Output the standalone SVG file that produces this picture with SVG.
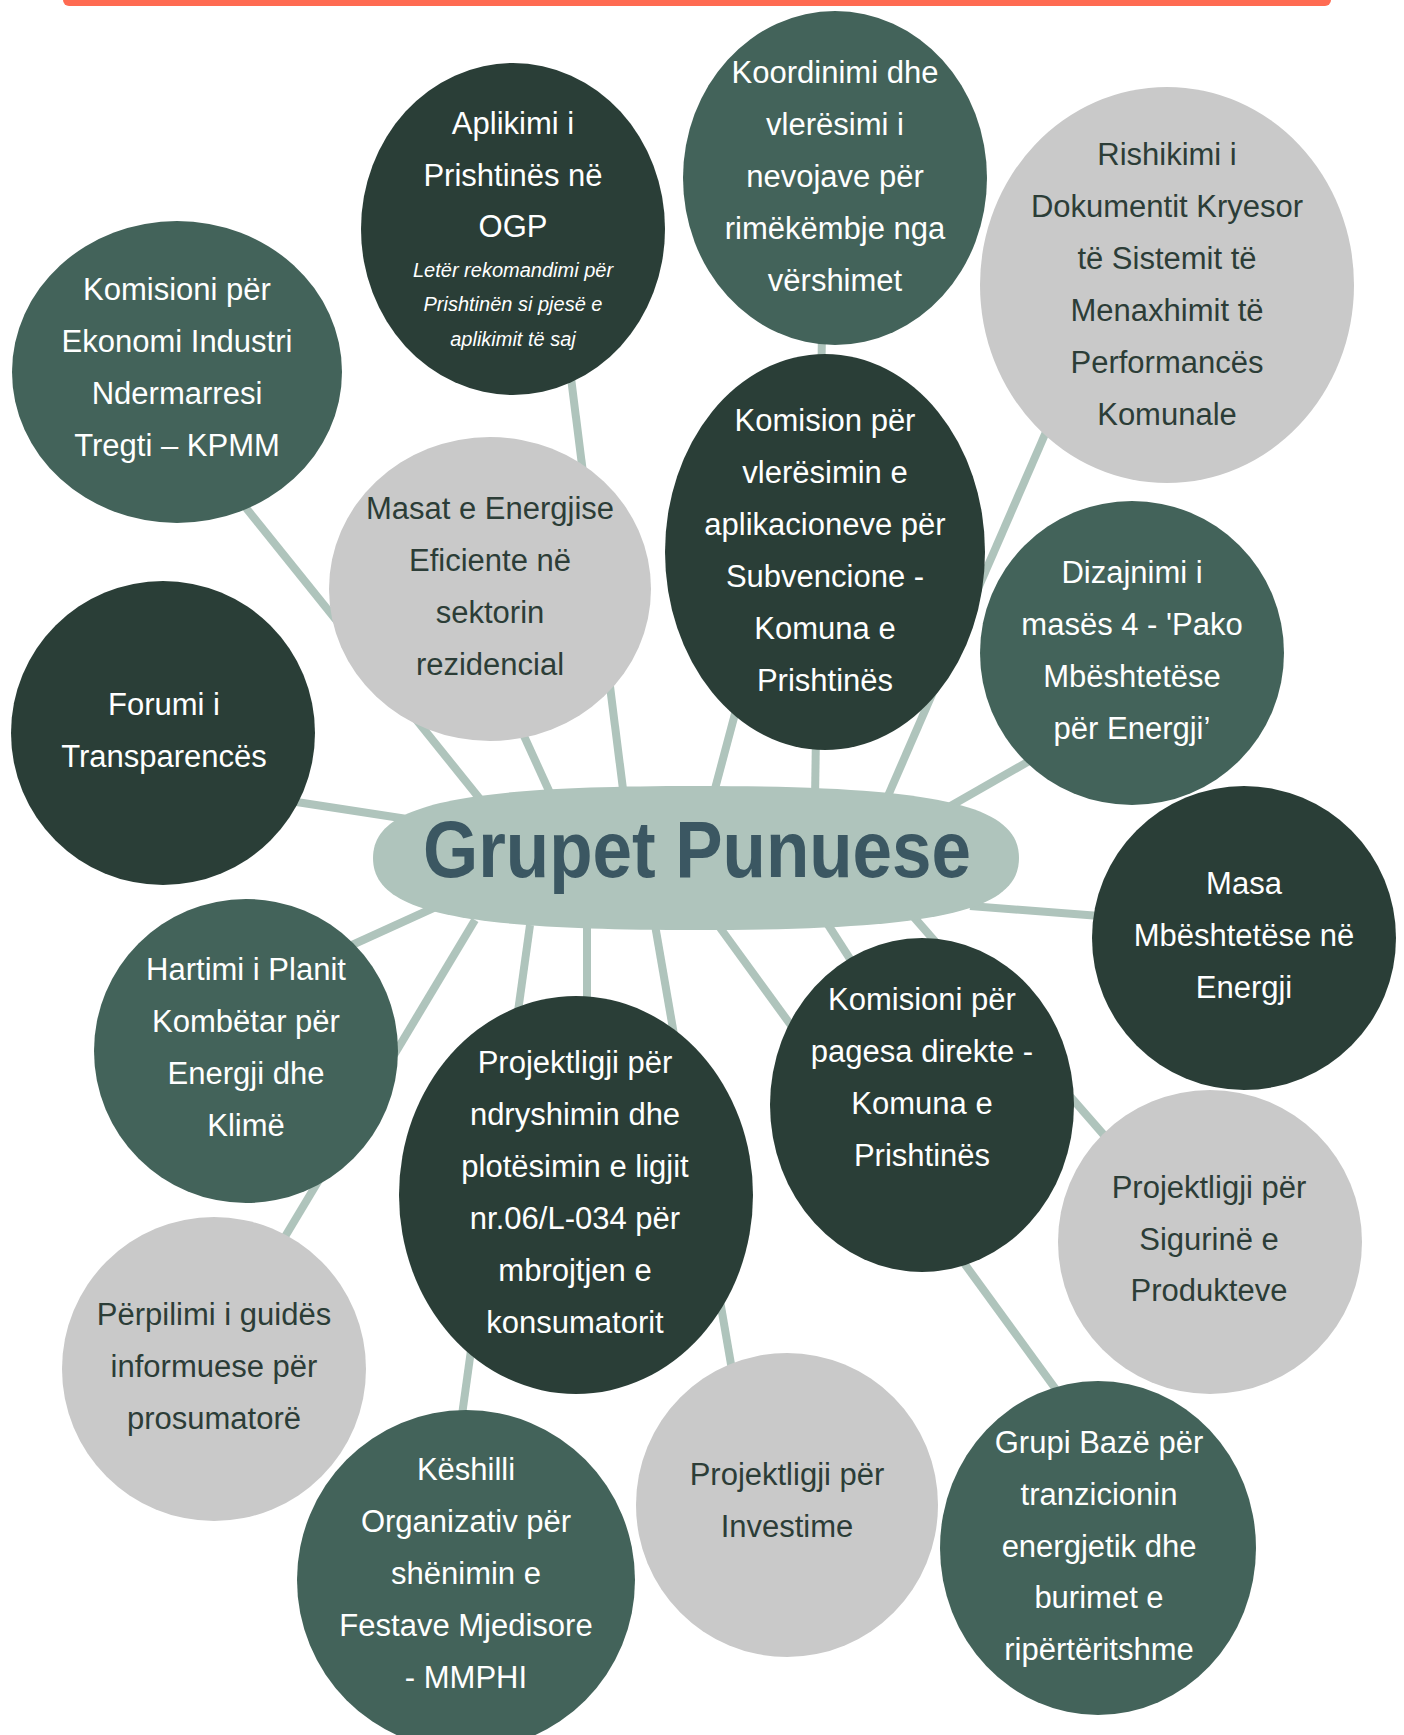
<svg xmlns="http://www.w3.org/2000/svg" width="1404" height="1735" viewBox="0 0 1404 1735">
<style>
.dark{fill:#2A3E37}
.mid{fill:#43635A}
.gray{fill:#C9C9C9}
.hub{fill:#AFC4BC}
text{font-family:"Liberation Sans",Arial,sans-serif;font-size:31px;text-anchor:middle}
.w{fill:#FFFFFF}
.k{fill:#2C3D37}
.it{font-style:italic;font-size:20px}
.title{font-weight:bold;font-size:80px;fill:#3B5762}
#connectors line{stroke:#AFC4BC;stroke-width:8;stroke-linecap:butt}
</style>
<rect x="63" y="-8" width="1268" height="14" rx="6" fill="#FF6B52"/>
<g id="connectors">
<line x1="230" y1="488" x2="480" y2="799"/>
<line x1="504" y1="692" x2="560" y2="815"/>
<line x1="570" y1="370" x2="625" y2="805"/>
<line x1="760" y1="620" x2="712" y2="800"/>
<line x1="822" y1="330" x2="815" y2="800"/>
<line x1="1049" y1="425" x2="884" y2="805"/>
<line x1="1045" y1="752" x2="940" y2="812"/>
<line x1="290" y1="801" x2="420" y2="821"/>
<line x1="970" y1="906" x2="1100" y2="916"/>
<line x1="330" y1="955" x2="440" y2="905"/>
<line x1="280" y1="1245" x2="475" y2="920"/>
<line x1="530" y1="925" x2="462" y2="1415"/>
<line x1="587" y1="925" x2="587" y2="1000"/>
<line x1="655" y1="925" x2="732" y2="1370"/>
<line x1="718" y1="925" x2="1060" y2="1395"/>
<line x1="825" y1="920" x2="870" y2="990"/>
<line x1="912" y1="915" x2="1110" y2="1142"/>
</g>
<g id="hub">
<path class="hub" d="M373 858 C373 805 454 786 696 786 C938 786 1019 805 1019 858 C1019 911 938 930 696 930 C454 930 373 911 373 858 Z"/>
<text class="title" x="697" y="877" textLength="548" lengthAdjust="spacingAndGlyphs">Grupet Punuese</text>
</g>
<g id="n-aplikimi">
<ellipse class="dark" cx="513" cy="229" rx="152" ry="166"/>
<text class="w" x="513" y="134">Aplikimi i</text>
<text class="w" x="513" y="186">Prishtinës në</text>
<text class="w" x="513" y="237">OGP</text>
<text class="w it" x="513" y="277">Letër rekomandimi për</text>
<text class="w it" x="513" y="311">Prishtinën si pjesë e</text>
<text class="w it" x="513" y="346">aplikimit të saj</text>
</g>
<g id="n-koordinimi">
<ellipse class="mid" cx="835" cy="178" rx="152" ry="167"/>
<text class="w" x="835" y="83">Koordinimi dhe</text>
<text class="w" x="835" y="135">vlerësimi i</text>
<text class="w" x="835" y="187">nevojave për</text>
<text class="w" x="835" y="239">rimëkëmbje nga</text>
<text class="w" x="835" y="291">vërshimet</text>
</g>
<g id="n-rishikimi">
<ellipse class="gray" cx="1167" cy="285" rx="187" ry="198"/>
<text class="k" x="1167" y="165">Rishikimi i</text>
<text class="k" x="1167" y="217">Dokumentit Kryesor</text>
<text class="k" x="1167" y="269">të Sistemit të</text>
<text class="k" x="1167" y="321">Menaxhimit të</text>
<text class="k" x="1167" y="373">Performancës</text>
<text class="k" x="1167" y="425">Komunale</text>
</g>
<g id="n-kpmm">
<ellipse class="mid" cx="177" cy="372" rx="165" ry="151"/>
<text class="w" x="177" y="300">Komisioni për</text>
<text class="w" x="177" y="352">Ekonomi Industri</text>
<text class="w" x="177" y="404">Ndermarresi</text>
<text class="w" x="177" y="456">Tregti – KPMM</text>
</g>
<g id="n-masat">
<ellipse class="gray" cx="490" cy="589" rx="161" ry="152"/>
<text class="k" x="490" y="519">Masat e Energjise</text>
<text class="k" x="490" y="571">Eficiente në</text>
<text class="k" x="490" y="623">sektorin</text>
<text class="k" x="490" y="675">rezidencial</text>
</g>
<g id="n-subvencione">
<ellipse class="dark" cx="825" cy="552" rx="160" ry="198"/>
<text class="w" x="825" y="431">Komision për</text>
<text class="w" x="825" y="483">vlerësimin e</text>
<text class="w" x="825" y="535">aplikacioneve për</text>
<text class="w" x="825" y="587">Subvencione -</text>
<text class="w" x="825" y="639">Komuna e</text>
<text class="w" x="825" y="691">Prishtinës</text>
</g>
<g id="n-dizajnimi">
<ellipse class="mid" cx="1132" cy="653" rx="152" ry="152"/>
<text class="w" x="1132" y="583">Dizajnimi i</text>
<text class="w" x="1132" y="635">masës 4 - 'Pako</text>
<text class="w" x="1132" y="687">Mbështetëse</text>
<text class="w" x="1132" y="739">për Energji’</text>
</g>
<g id="n-forumi">
<ellipse class="dark" cx="163" cy="733" rx="152" ry="152"/>
<text class="w" x="164" y="715">Forumi i</text>
<text class="w" x="164" y="767">Transparencës</text>
</g>
<g id="n-masa">
<ellipse class="dark" cx="1244" cy="938" rx="152" ry="152"/>
<text class="w" x="1244" y="894">Masa</text>
<text class="w" x="1244" y="946">Mbështetëse në</text>
<text class="w" x="1244" y="998">Energji</text>
</g>
<g id="n-hartimi">
<ellipse class="mid" cx="246" cy="1051" rx="152" ry="152"/>
<text class="w" x="246" y="980">Hartimi i Planit</text>
<text class="w" x="246" y="1032">Kombëtar për</text>
<text class="w" x="246" y="1084">Energji dhe</text>
<text class="w" x="246" y="1136">Klimë</text>
</g>
<g id="n-projektligji-konsumatorit">
<ellipse class="dark" cx="576" cy="1195" rx="177" ry="199"/>
<text class="w" x="575" y="1073">Projektligji për</text>
<text class="w" x="575" y="1125">ndryshimin dhe</text>
<text class="w" x="575" y="1177">plotësimin e ligjit</text>
<text class="w" x="575" y="1229">nr.06/L-034 për</text>
<text class="w" x="575" y="1281">mbrojtjen e</text>
<text class="w" x="575" y="1333">konsumatorit</text>
</g>
<g id="n-pagesa">
<ellipse class="dark" cx="922" cy="1105" rx="152" ry="167"/>
<text class="w" x="922" y="1010">Komisioni për</text>
<text class="w" x="922" y="1062">pagesa direkte -</text>
<text class="w" x="922" y="1114">Komuna e</text>
<text class="w" x="922" y="1166">Prishtinës</text>
</g>
<g id="n-siguria">
<ellipse class="gray" cx="1210" cy="1242" rx="152" ry="152"/>
<text class="k" x="1209" y="1198">Projektligji për</text>
<text class="k" x="1209" y="1250">Sigurinë e</text>
<text class="k" x="1209" y="1301">Produkteve</text>
</g>
<g id="n-perpilimi">
<ellipse class="gray" cx="214" cy="1369" rx="152" ry="152"/>
<text class="k" x="214" y="1325">Përpilimi i guidës</text>
<text class="k" x="214" y="1377">informuese për</text>
<text class="k" x="214" y="1429">prosumatorë</text>
</g>
<g id="n-keshilli">
<ellipse class="mid" cx="466" cy="1580" rx="169" ry="170"/>
<text class="w" x="466" y="1480">Këshilli</text>
<text class="w" x="466" y="1532">Organizativ për</text>
<text class="w" x="466" y="1584">shënimin e</text>
<text class="w" x="466" y="1636">Festave Mjedisore</text>
<text class="w" x="466" y="1688">- MMPHI</text>
</g>
<g id="n-investime">
<ellipse class="gray" cx="787" cy="1505" rx="151" ry="152"/>
<text class="k" x="787" y="1485">Projektligji për</text>
<text class="k" x="787" y="1537">Investime</text>
</g>
<g id="n-grupi-baze">
<ellipse class="mid" cx="1098" cy="1548" rx="158" ry="167"/>
<text class="w" x="1099" y="1453">Grupi Bazë për</text>
<text class="w" x="1099" y="1505">tranzicionin</text>
<text class="w" x="1099" y="1557">energjetik dhe</text>
<text class="w" x="1099" y="1608">burimet e</text>
<text class="w" x="1099" y="1660">ripërtëritshme</text>
</g>
</svg>
